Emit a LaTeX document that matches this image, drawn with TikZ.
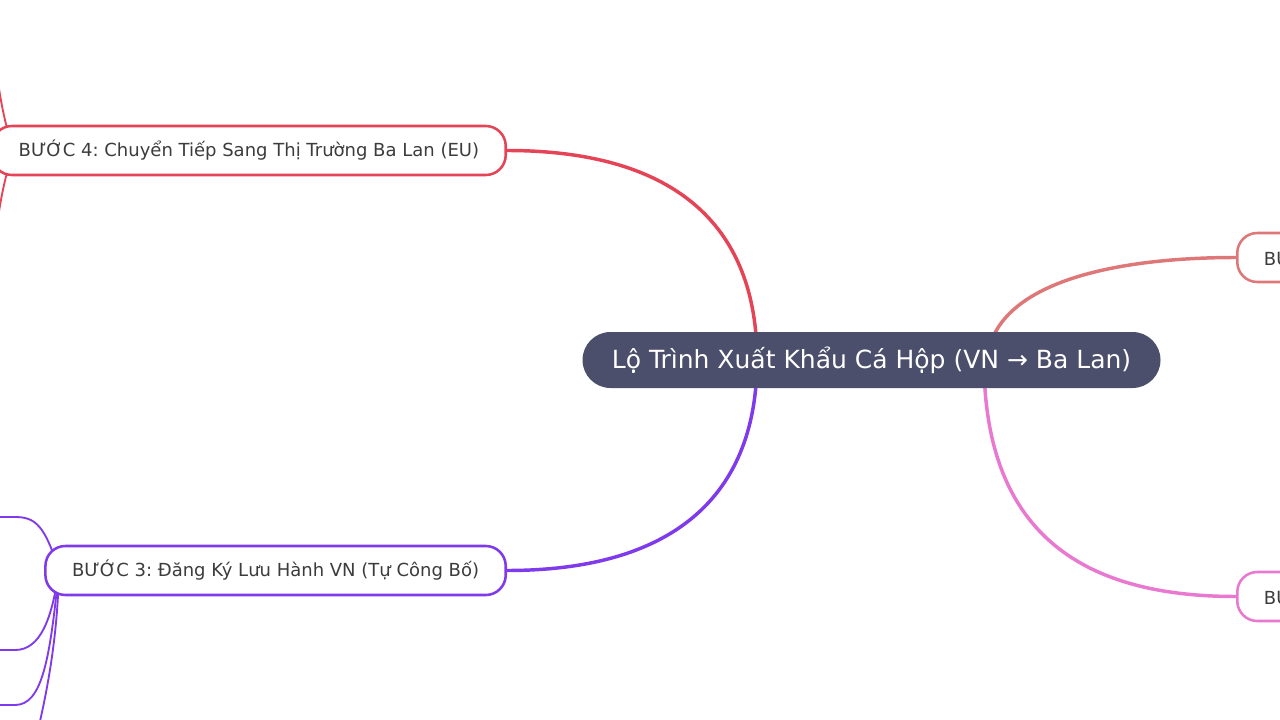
\documentclass[tikz,border=0pt]{standalone}
\usepackage{fontspec}
\setmainfont{DejaVu Sans}
\frenchspacing
\usetikzlibrary{positioning}
\definecolor{rootfill}{RGB}{75,79,107}
\definecolor{stepgray}{RGB}{60,60,60}
\definecolor{stepred}{RGB}{228,68,86}
\definecolor{steppurple}{RGB}{127,58,235}
\definecolor{stepsalmon}{RGB}{222,120,120}
\definecolor{steppink}{RGB}{232,120,208}
\pgfdeclarelayer{bg}
\pgfsetlayers{bg,main}
\tikzset{
  rootnode/.style={fill=rootfill, text=white, rounded corners=21pt, minimum width=433.5pt, minimum height=42pt, font=\fontsize{18.75}{22}\selectfont},
  stepnode/.style={draw=#1, line width=1.9pt, fill=white, rounded corners=15pt, minimum height=36.75pt, inner xsep=20pt, font=\fontsize{13.5}{16}\selectfont, text=stepgray},
  branch/.style={draw=#1, line width=2.6pt},
  twig/.style={draw=#1, line width=1.4pt}
}
\begin{document}
\begin{tikzpicture}[x=0.75pt,y=-0.75pt]
    \useasboundingbox (0,0) rectangle (1280,720);
    \clip (0,0) rectangle (1280,720);

    \node[rootnode] (root) at (871.5,360) {Lộ Trình Xuất Khẩu Cá Hộp (VN → Ba Lan)};
    \node[stepnode=stepred, anchor=east] (b4) at (507,150.5) {BƯỚC 4: Chuyển Tiếp Sang Thị Trường Ba Lan (EU)};
    \node[stepnode=steppurple, anchor=east] (b3) at (507,570.5) {BƯỚC 3: Đăng Ký Lưu Hành VN (Tự Công Bố)};
    \node[stepnode=stepsalmon, anchor=west] (b1) at (1236,257.5) {BƯỚC 1};
    \node[stepnode=steppink, anchor=west] (b2) at (1236,596.5) {BƯỚC 2};

    % children lying outside the page
    \foreach \c/\x/\y in {c4a/-5/60, c4b/-5/240, c3a/-5/517, c3b/-5/650, c3c/-5/705, c3d/38/730}
        \coordinate (\c) at (\x,\y);
    \coordinate (p4) at ([xshift=17.25pt]b4.west);
    \coordinate (p3) at ([xshift=11pt]b3.west);

    \begin{pgfonlayer}{bg}
        \draw[branch=stepred] (b4.east) .. controls +(173,0) and +(0,-130) .. ([xshift=-85.875pt]root.center);
        \draw[branch=steppurple] (b3.east) .. controls +(173,0) and +(0,130) .. ([xshift=-85.875pt]root.center);
        \draw[branch=stepsalmon] ([xshift=88.875pt,yshift=11.25pt]root.center) .. controls +(20,-65) and +(-116,0) .. (b1.west);
        \draw[branch=steppink] ([xshift=84.375pt]root.center) .. controls +(0,180) and +(-146,0) .. (b2.west);

        \draw[twig=stepred] (p4) .. controls (5,125) and (0,100) .. (c4a);
        \draw[twig=stepred] (p4) .. controls (5,176) and (0,200) .. (c4b);
        \draw[twig=steppurple] (p3) .. controls (45,525) and (35,517) .. (15,517) -- (c3a);
        \draw[twig=steppurple] (p3) .. controls (52,620) and (40,650) .. (15,650) -- (c3b);
        \draw[twig=steppurple] (p3) .. controls (50,660) and (42,705) .. (15,705) -- (c3c);
        \draw[twig=steppurple] (p3) .. controls (58,640) and (45,700) .. (c3d);
    \end{pgfonlayer}
\end{tikzpicture}
\end{document}
